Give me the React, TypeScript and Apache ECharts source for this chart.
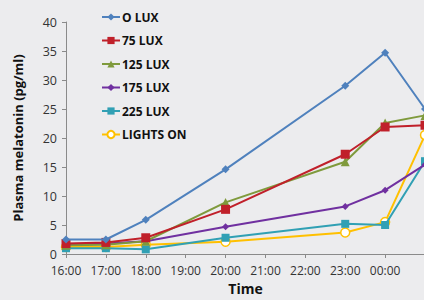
import React, { useEffect, useRef } from "react";
import * as echarts from "echarts";

const times = ["16:00", "17:00", "18:00", "19:00", "20:00", "21:00", "22:00", "23:00", "00:00", "01:00"];
const lux0 = [2.5, 2.5, 5.9, null, 14.6, null, null, 29.0, 34.7, 25.0];
const lux75 = [1.8, 2.0, 2.8, null, 7.7, null, null, 17.2, 21.9, 22.2];
const lux125 = [1.5, 1.6, 2.2, null, 8.9, null, null, 15.9, 22.6, 23.9];
const lux175 = [1.6, 1.8, 2.2, null, 4.7, null, null, 8.2, 11.0, 15.4];
const lux225 = [1.0, 1.0, 0.8, null, 2.8, null, null, 5.2, 5.0, 16.0];
const lightsOn = [1.2, 1.2, 1.6, null, 2.1, null, null, 3.7, 5.5, 20.5];

const seriesNames = ["O LUX", "75 LUX", "125 LUX", "175 LUX", "225 LUX", "LIGHTS ON"];
const seriesData = [lux0, lux75, lux125, lux175, lux225, lightsOn];
const colors = ["#4F81BD", "#C0202A", "#7F9A3C", "#7030A0", "#31A0B4", "#FFC000"];
const symbols = ["diamond", "rect", "triangle", "diamond", "rect", "circle"];
const symbolSizes = [8, 9, 9, 7, 8, 9];

export default function App() {
  const ref = useRef<HTMLDivElement>(null);
  useEffect(() => {
    if (!ref.current) return;
    const chart = echarts.init(ref.current, null, { renderer: "svg" });
    const font = "'Open Sans', 'DejaVu Sans', sans-serif";
    chart.setOption({
      animation: false,
      backgroundColor: "#ECECEE",
      textStyle: { fontFamily: font },
      grid: { left: 66, right: 2, top: 22, bottom: 41 },
      legend: {
        orient: "vertical",
        left: 96,
        top: 6,
        itemWidth: 18,
        itemHeight: 9,
        itemGap: 11.5,
        textStyle: { fontFamily: font, fontWeight: "bold", fontSize: 12, color: "#111", padding: [0, 0, 0, -3] },
        data: seriesNames,
      },
      xAxis: {
        type: "category",
        data: times,
        boundaryGap: false,
        name: "Time",
        nameLocation: "middle",
        nameGap: 27,
        nameTextStyle: { fontFamily: font, fontWeight: "bold", fontSize: 14, color: "#111" },
        axisLine: { lineStyle: { color: "#8a8a8a", width: 1 } },
        axisTick: { show: true, length: 4, lineStyle: { color: "#8a8a8a" } },
        axisLabel: {
          fontFamily: font,
          fontSize: 12,
          color: "#333",
          margin: 10,
          interval: 0,
          formatter: (v: string) => (v === times[times.length - 1] ? "" : v),
        },
        splitLine: { show: false },
      },
      yAxis: {
        type: "value",
        min: 0,
        max: 40,
        interval: 5,
        name: "Plasma melatonin (pg/ml)",
        nameLocation: "middle",
        nameGap: 42,
        nameTextStyle: { fontFamily: font, fontWeight: "bold", fontSize: 13, color: "#111" },
        axisLine: { show: true, lineStyle: { color: "#8a8a8a", width: 1 } },
        axisTick: { show: true, length: 4, lineStyle: { color: "#8a8a8a" } },
        axisLabel: { fontFamily: font, fontSize: 12.5, color: "#333", margin: 9 },
        splitLine: { show: false },
      },
      series: seriesNames.map((n, i) => ({
        name: n,
        type: "line",
        data: seriesData[i],
        connectNulls: true,
        symbol: symbols[i],
        symbolSize: symbolSizes[i],
        showAllSymbol: true,
        color: colors[i],
        lineStyle: { color: colors[i], width: 2 },
        itemStyle:
          symbols[i] === "circle"
            ? { color: "#ffffff", borderColor: colors[i], borderWidth: 1.5 }
            : { color: colors[i] },
        z: 10 - i,
      })),
    });
    return () => chart.dispose();
  }, []);
  return (
    <div
      ref={ref}
      style={{ position: "fixed", left: 0, top: 0, width: 428, height: 300 }}
    />
  );
}
